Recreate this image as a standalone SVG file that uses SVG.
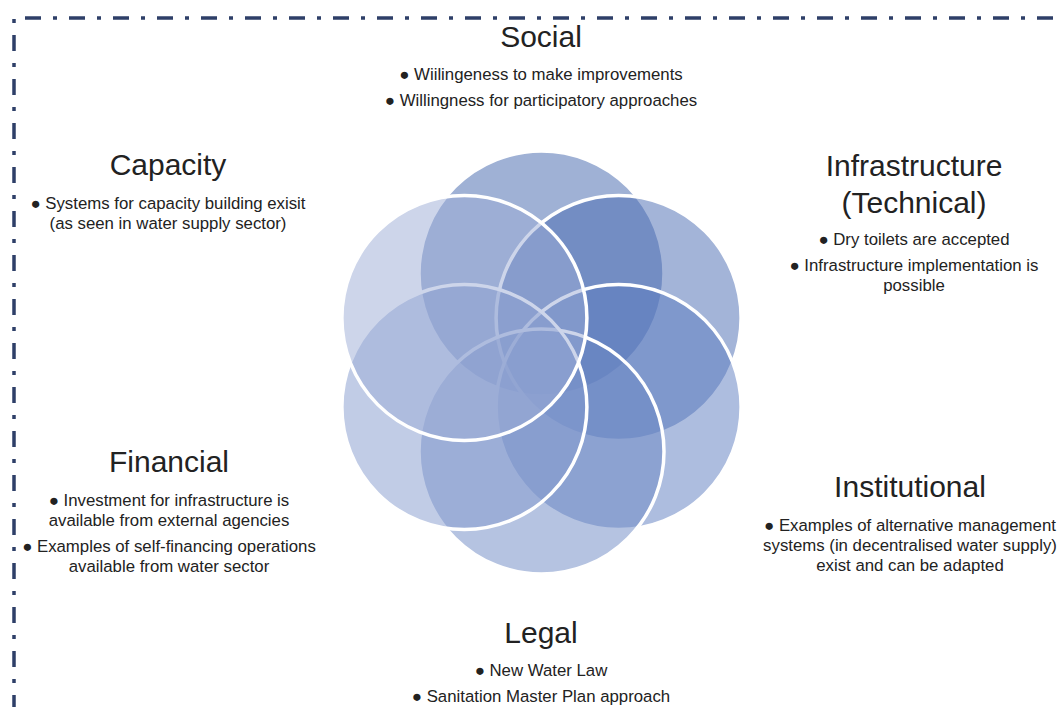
<svg xmlns="http://www.w3.org/2000/svg" width="1058" height="707" viewBox="0 0 1058 707">
<style>
.frame{fill:none;stroke:#2E3F68;stroke-width:3.5;stroke-dasharray:16 12 4 12}
.c{stroke:#fff;stroke-width:3.5;fill-opacity:0.5}
.h{font-family:"Liberation Sans",Arial,sans-serif;font-size:30px;fill:#222;text-anchor:middle}
.b{font-family:"Liberation Sans",Arial,sans-serif;font-size:16.8px;fill:#222;text-anchor:middle}
</style>
<rect width="1058" height="707" fill="#fff"/>
<g id="frame">
<path class="frame" d="M25 18H1058"/>
<path class="frame" d="M14 18V707" stroke-dashoffset="27"/>
</g>
<g id="social">
<circle class="c" cx="541.5" cy="273.5" r="122.5" fill="#3F63AB"/>
<text class="h" x="541" y="47">Social</text>
<text class="b"><tspan x="541" y="80">● Wiilingeness to make improvements</tspan><tspan x="541" y="106">● Willingness for participatory approaches</tspan></text>
</g>
<g id="infrastructure">
<circle class="c" cx="618.6" cy="318" r="122.5" fill="#4769B1"/>
<text class="h"><tspan x="914" y="176">Infrastructure</tspan><tspan x="914" y="213">(Technical)</tspan></text>
<text class="b"><tspan x="914" y="245">● Dry toilets are accepted</tspan><tspan x="914" y="271">● Infrastructure implementation is</tspan><tspan x="914" y="291">possible</tspan></text>
</g>
<g id="institutional">
<circle class="c" cx="618.6" cy="407" r="122.5" fill="#5B7BBF"/>
<text class="h" x="910" y="497">Institutional</text>
<text class="b"><tspan x="910" y="531">● Examples of alternative management</tspan><tspan x="910" y="551">systems (in decentralised water supply)</tspan><tspan x="910" y="571">exist and can be adapted</tspan></text>
</g>
<g id="legal">
<circle class="c" cx="541.5" cy="451.5" r="122.5" fill="#6B87C3"/>
<text class="h" x="541" y="643">Legal</text>
<text class="b"><tspan x="541" y="676">● New Water Law</tspan><tspan x="541" y="702">● Sanitation Master Plan approach</tspan></text>
</g>
<g id="financial">
<circle class="c" cx="464.4" cy="407" r="122.5" fill="#8399CD"/>
<text class="h" x="169" y="472">Financial</text>
<text class="b"><tspan x="169" y="506">● Investment for infrastructure is</tspan><tspan x="169" y="526">available from external agencies</tspan><tspan x="169" y="552">● Examples of self-financing operations</tspan><tspan x="169" y="572">available from water sector</tspan></text>
</g>
<g id="capacity">
<circle class="c" cx="464.4" cy="318" r="122.5" fill="#9BABD5"/>
<text class="h" x="168" y="175">Capacity</text>
<text class="b"><tspan x="168" y="209">● Systems for capacity building exisit</tspan><tspan x="168" y="229">(as seen in water supply sector)</tspan></text>
</g>
<g id="connectors"/>
</svg>
